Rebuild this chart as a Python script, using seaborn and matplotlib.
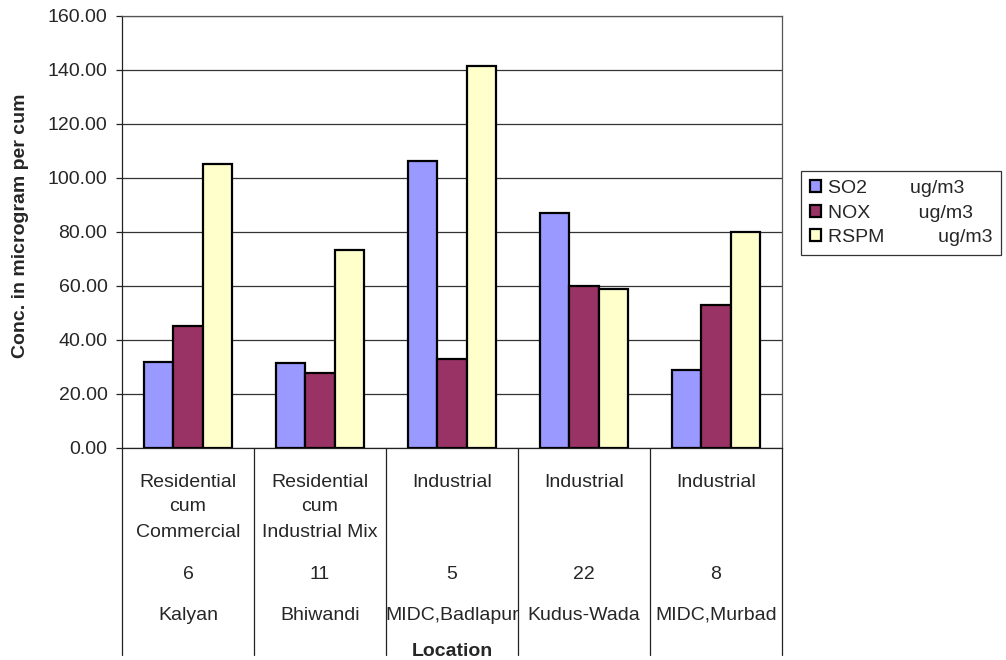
import matplotlib
matplotlib.use("Agg")
import matplotlib.pyplot as plt
import seaborn as sns
import pandas as pd
from matplotlib.ticker import FormatStrFormatter, MultipleLocator

# Monitoring stations: area type, station number, location
area_types = ["Residential\ncum\nCommercial", "Residential\ncum\nIndustrial Mix",
              "Industrial", "Industrial", "Industrial"]
station_ids = ["6", "11", "5", "22", "8"]
locations = ["Kalyan", "Bhiwandi", "MIDC,Badlapur", "Kudus-Wada", "MIDC,Murbad"]

# Pollutant concentrations (ug/m3)
so2 = [31.7, 31.4, 106.4, 87.2, 28.9]
nox = [45.2, 27.9, 33.0, 60.0, 53.1]
rspm = [105.1, 73.3, 141.4, 59.0, 79.9]

series_names = ["SO2        ug/m3", "NOX         ug/m3", "RSPM          ug/m3"]
series_colors = ["#9999FF", "#993366", "#FFFFCC"]

df = pd.DataFrame({
    "Location": locations * 3,
    "Pollutant": [series_names[0]] * 5 + [series_names[1]] * 5 + [series_names[2]] * 5,
    "Conc": so2 + nox + rspm,
})

sns.set_style("white")
plt.rcParams["font.family"] = ["Liberation Sans", "DejaVu Sans"]
FS = 14

fig = plt.figure(figsize=(10.06, 6.6), dpi=100)
ax = fig.add_axes([122 / 1006, 1 - 448 / 660, 660 / 1006, 432 / 660])

sns.barplot(data=df, x="Location", y="Conc", hue="Pollutant", order=locations,
            hue_order=series_names, palette=series_colors, width=2 / 3, gap=0,
            edgecolor="black", linewidth=1.6, saturation=1, ax=ax, zorder=3)

ax.set_ylim(0, 160)
ax.set_xlim(-0.5, len(locations) - 0.5)
ax.yaxis.set_major_locator(MultipleLocator(20))
ax.yaxis.set_major_formatter(FormatStrFormatter("%.2f"))
ax.grid(axis="y", color="#333333", linewidth=0.9, zorder=0)
ax.set_axisbelow(True)
ax.tick_params(axis="y", which="major", left=True, length=4.5, width=0.9,
               color="#222222", labelsize=FS, pad=6)
ax.tick_params(axis="x", bottom=False, labelbottom=False)
for side in ["top", "right"]:
    ax.spines[side].set_color("#555555")
    ax.spines[side].set_linewidth(0.9)
for side in ["left", "bottom"]:
    ax.spines[side].set_color("#222222")
    ax.spines[side].set_linewidth(0.9)

ax.set_xlabel("")
ax.set_ylabel("Conc. in microgram per cum", fontsize=FS, fontweight="bold")
ax.yaxis.set_label_coords(-0.141, 0.515)

# Multi-level category labels below the axis (baselines in axes fraction)
trans = ax.get_xaxis_transform()
type_baselines = [-0.0896, -0.1458, -0.206]
for i, (atype, sid, loc) in enumerate(zip(area_types, station_ids, locations)):
    for k, part in enumerate(atype.split("\n")):
        ax.text(i, type_baselines[k], part, transform=trans, ha="center",
                va="baseline", fontsize=FS)
    ax.text(i, -0.303, sid, transform=trans, ha="center", va="baseline", fontsize=FS)
    ax.text(i, -0.398, loc, transform=trans, ha="center", va="baseline", fontsize=FS)

for b in range(len(locations) + 1):
    ax.plot([b - 0.5, b - 0.5], [0, -0.479], transform=trans, color="#222222",
            linewidth=0.9, clip_on=False)

ax.text(2, -0.481, "Location", transform=trans, ha="center", va="baseline",
        fontsize=FS, fontweight="bold")

leg = ax.legend(loc="upper left", bbox_to_anchor=(801 / 1006, 1 - 171 / 660),
                bbox_transform=fig.transFigure, frameon=True, fancybox=False,
                fontsize=FS, handlelength=0.57, handleheight=0.57,
                handletextpad=0.36, labelspacing=0.4, borderpad=0.45,
                borderaxespad=0)
leg.get_frame().set_edgecolor("black")
leg.get_frame().set_linewidth(0.9)

fig.savefig("out.png", dpi=100)
